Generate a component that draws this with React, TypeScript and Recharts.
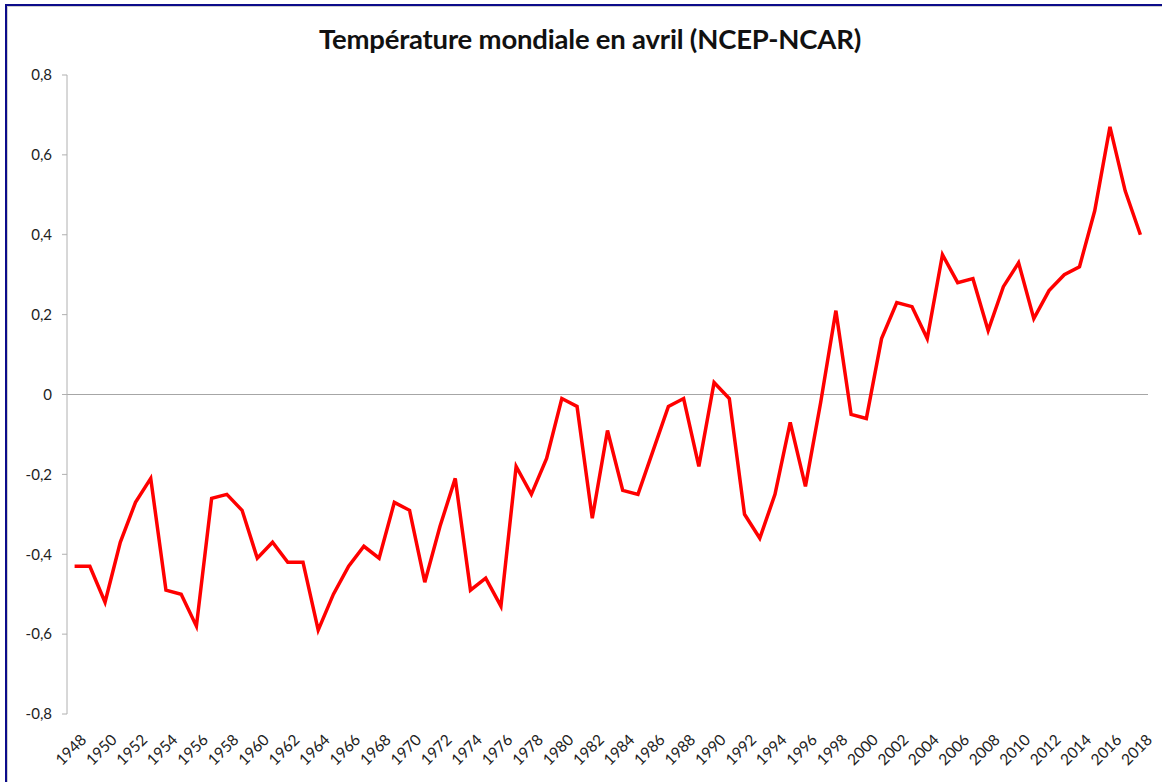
import React from 'react';
import { LineChart, Line, XAxis, YAxis, ReferenceLine } from 'recharts';

const years = [
  '1948', '1949', '1950', '1951', '1952', '1953', '1954', '1955', '1956', '1957',
  '1958', '1959', '1960', '1961', '1962', '1963', '1964', '1965', '1966', '1967',
  '1968', '1969', '1970', '1971', '1972', '1973', '1974', '1975', '1976', '1977',
  '1978', '1979', '1980', '1981', '1982', '1983', '1984', '1985', '1986', '1987',
  '1988', '1989', '1990', '1991', '1992', '1993', '1994', '1995', '1996', '1997',
  '1998', '1999', '2000', '2001', '2002', '2003', '2004', '2005', '2006', '2007',
  '2008', '2009', '2010', '2011', '2012', '2013', '2014', '2015', '2016', '2017',
  '2018',
];

const anomalies = [
  -0.43, -0.43, -0.52, -0.37, -0.27, -0.21, -0.49, -0.5, -0.58, -0.26,
  -0.25, -0.29, -0.41, -0.37, -0.42, -0.42, -0.59, -0.5, -0.43, -0.38,
  -0.41, -0.27, -0.29, -0.47, -0.33, -0.21, -0.49, -0.46, -0.53, -0.18,
  -0.25, -0.16, -0.01, -0.03, -0.31, -0.09, -0.24, -0.25, -0.14, -0.03,
  -0.01, -0.18, 0.03, -0.01, -0.3, -0.36, -0.25, -0.07, -0.23, -0.02,
  0.21, -0.05, -0.06, 0.14, 0.23, 0.22, 0.14, 0.35, 0.28, 0.29,
  0.16, 0.27, 0.33, 0.19, 0.26, 0.3, 0.32, 0.46, 0.67, 0.51,
  0.4,
];

const yTicks = [-0.8, -0.6, -0.4, -0.2, 0, 0.2, 0.4, 0.6, 0.8];

const title = 'Température mondiale en avril (NCEP-NCAR)';

const data = years.map((year, i) => ({ year, value: anomalies[i] }));

const fmt = (v: number) => (v === 0 ? '0' : v.toFixed(1).replace('.', ','));

const font = 'Lato, "Open Sans", sans-serif';

const App: React.FC = () => {
  return (
    <div style={{ position: 'absolute', left: 0, top: 0, width: 1162, height: 782, background: '#fff', fontFamily: font }}>
      <div
        style={{
          position: 'absolute',
          left: 5,
          top: 4,
          width: 1170,
          height: 800,
          borderTop: '2px solid #0c0c8a',
          borderLeft: '2px solid #0c0c8a',
        }}
      />
      <div
        style={{
          position: 'absolute',
          left: 7,
          top: 6,
          width: 1170,
          height: 800,
          borderTop: '1px solid #cfcfcf',
          borderLeft: '1px solid #cfcfcf',
        }}
      />
      <div
        style={{
          position: 'absolute',
          left: 0,
          top: 22,
          width: 1180,
          textAlign: 'center',
          fontSize: 27.5,
          fontWeight: 700,
          color: '#111',
          letterSpacing: -0.2,
        }}
      >
        {title}
      </div>
      <div style={{ position: 'absolute', left: 0, top: 0 }}>
        <LineChart width={1162} height={782} data={data} margin={{ top: 75, right: 14, bottom: 8, left: 0 }}>
          <XAxis
            dataKey="year"
            interval={1}
            axisLine={false}
            tickLine={false}
            height={60}
            padding={{ left: 7.6, right: 7.6 }}
            angle={-45}
            textAnchor="end"
            tick={{ fontSize: 15.5, fill: '#222', fontFamily: font, dx: 5, dy: 11 }}
          />
          <YAxis
            domain={[-0.8, 0.8]}
            ticks={yTicks}
            tickFormatter={fmt}
            width={67}
            tickSize={5}
            tickMargin={10}
            axisLine={{ stroke: '#b0b0b0' }}
            tickLine={{ stroke: '#b0b0b0' }}
            tick={{ fontSize: 15, fill: '#222', fontFamily: font }}
            allowDataOverflow
          />
          <ReferenceLine y={0} stroke="#a6a6a6" strokeWidth={1} />
          <Line
            type="linear"
            dataKey="value"
            stroke="#ff0000"
            strokeWidth={3.5}
            dot={false}
            isAnimationActive={false}
          />
        </LineChart>
      </div>
    </div>
  );
};

export default App;
